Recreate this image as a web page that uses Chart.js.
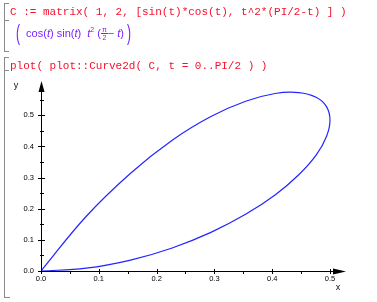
<!DOCTYPE html>
<html>
<head>
<meta charset="utf-8">
<script src="https://cdn.jsdelivr.net/npm/chart.js@4"></script>
<style>
  body { margin: 0; width: 377px; height: 302px; position: relative; background: #fff; overflow: hidden; }
  #wrap { position: absolute; left: 0; top: 0; width: 377px; height: 302px; }
  .input { position: absolute; left: 10px; font: 11px "Liberation Mono", "DejaVu Sans Mono", monospace; color: #f5102c; white-space: pre; line-height: 12px; }
  .output { position: absolute; left: 16px; top: 26px; font: 11px "Liberation Sans", Arial, sans-serif; color: #7a22ff; white-space: nowrap; }
  .output i { font-style: italic; }
  .paren { display: inline-block; font-size: 12px; transform: scaleY(1.8); vertical-align: 0px; }
  .frac { display: inline-block; vertical-align: -3px; font-size: 7px; text-align: center; line-height: 7px; }
  .frac span { display: block; }
  .frac .top { border-bottom: 1px solid #7a22ff; padding: 0 1px; }
  .br { position: absolute; background: #8a8a8a; }
</style>
</head>
<body>
<div id="wrap"><canvas id="curveChart" width="377" height="302"></canvas></div>

<div class="input" style="top:6px">C := matrix( 1, 2, [sin(t)*cos(t), t^2*(PI/2-t) ] )</div>
<div class="output"><span class="paren">(</span>&nbsp; cos(<i>t</i>) sin(<i>t</i>)&nbsp; <i>t</i><sup style="font-size:7px">2</sup> (<span class="frac"><span class="top">π</span><span>2</span></span>− <i>t</i>)&nbsp;<span class="paren">)</span></div>
<div class="input" style="top:60px">plot( plot::Curve2d( C, t = 0..PI/2 ) )</div>

<!-- notebook cell brackets -->
<div class="br" style="left:4px; top:3px; width:1px; height:49px"></div>
<div class="br" style="left:4px; top:3px; width:5px; height:1px"></div>
<div class="br" style="left:4px; top:20px; width:5px; height:1px"></div>
<div class="br" style="left:4px; top:51px; width:5px; height:1px"></div>
<div class="br" style="left:4px; top:57px; width:1px; height:241px"></div>
<div class="br" style="left:4px; top:57px; width:5px; height:1px"></div>
<div class="br" style="left:4px; top:70px; width:5px; height:1px"></div>
<div class="br" style="left:4px; top:297px; width:6px; height:1px"></div>

<script>
// curve C(t) = [x, y] at even steps of t from 0 to PI/2
const curveX = [0, 0.078, 0.155, 0.227, 0.294, 0.354, 0.405, 0.446, 0.476, 0.494, 0.500,
                0.494, 0.476, 0.446, 0.405, 0.354, 0.294, 0.227, 0.155, 0.078, 0];
const curveY = [0, 0.009, 0.035, 0.074, 0.124, 0.182, 0.244, 0.309, 0.372, 0.432, 0.484,
                0.528, 0.558, 0.573, 0.570, 0.545, 0.496, 0.420, 0.314, 0.175, 0];

const xTicks = [0, 0.1, 0.2, 0.3, 0.4, 0.5];
const yTicks = [0, 0.1, 0.2, 0.3, 0.4, 0.5];
const xMinor = [0.05, 0.15, 0.25, 0.35, 0.45];
const yMinor = [0.05, 0.15, 0.25, 0.35, 0.45, 0.55];

const points = curveX.map((x, i) => ({ x: x, y: curveY[i] }));

// axes in the MuPAD style: through the origin, with arrows and crossing ticks
const mupadAxes = {
    id: 'mupadAxes',
    afterDatasetsDraw(chart) {
        const ctx = chart.ctx;
        const xs = chart.scales.x;
        const ys = chart.scales.y;
        const area = chart.chartArea;
        const ox = xs.getPixelForValue(0);
        const oy = ys.getPixelForValue(0);

        ctx.save();
        ctx.strokeStyle = '#000';
        ctx.fillStyle = '#000';
        ctx.lineWidth = 1;

        ctx.beginPath();
        ctx.moveTo(ox - 0.5, oy + 0.5);
        ctx.lineTo(area.right - 6, oy + 0.5);
        ctx.moveTo(ox + 0.5, oy + 0.5);
        ctx.lineTo(ox + 0.5, area.top + 6);
        ctx.stroke();

        // arrow heads
        ctx.beginPath();
        ctx.moveTo(area.right + 1, oy + 0.5);
        ctx.lineTo(area.right - 12, oy - 2.5);
        ctx.lineTo(area.right - 12, oy + 3.5);
        ctx.closePath();
        ctx.fill();
        ctx.beginPath();
        ctx.moveTo(ox + 0.5, area.top - 1);
        ctx.lineTo(ox - 2.5, area.top + 10);
        ctx.lineTo(ox + 3.5, area.top + 10);
        ctx.closePath();
        ctx.fill();

        ctx.beginPath();
        xTicks.forEach(v => {
            const px = Math.round(xs.getPixelForValue(v)) + 0.5;
            ctx.moveTo(px, oy - 2);
            ctx.lineTo(px, oy + 3);
        });
        xMinor.forEach(v => {
            const px = Math.round(xs.getPixelForValue(v)) + 0.5;
            ctx.moveTo(px, oy);
            ctx.lineTo(px, oy + 3);
        });
        yTicks.forEach(v => {
            const py = Math.round(ys.getPixelForValue(v)) + 0.5;
            ctx.moveTo(ox - 3, py);
            ctx.lineTo(ox + 4, py);
        });
        yMinor.forEach(v => {
            const py = Math.round(ys.getPixelForValue(v)) + 0.5;
            ctx.moveTo(ox - 1, py);
            ctx.lineTo(ox + 3, py);
        });
        ctx.stroke();

        ctx.font = '7.5px "Liberation Sans", Arial, sans-serif';
        ctx.textAlign = 'center';
        ctx.textBaseline = 'top';
        xTicks.forEach(v => {
            ctx.fillText(v.toFixed(1), xs.getPixelForValue(v), oy + 4);
        });
        ctx.textAlign = 'right';
        ctx.textBaseline = 'middle';
        yTicks.forEach(v => {
            ctx.fillText(v.toFixed(1), ox - 7, ys.getPixelForValue(v));
        });

        ctx.font = '9px "Liberation Sans", Arial, sans-serif';
        ctx.fillStyle = '#0a0a30';
        ctx.textAlign = 'center';
        ctx.fillText('x', area.right - 7, oy + 17);
        ctx.fillText('y', ox - 25, area.top + 4);
        ctx.restore();
    }
};

new Chart(document.getElementById('curveChart'), {
    type: 'scatter',
    data: {
        datasets: [{
            data: points,
            showLine: true,
            borderColor: '#2424ff',
            borderWidth: 1.2,
            pointRadius: 0,
            tension: 0.4,
            fill: false
        }]
    },
    options: {
        responsive: false,
        animation: false,
        layout: { padding: { left: 41, top: 82, right: 32, bottom: 31 } },
        scales: {
            x: { type: 'linear', min: 0, max: 0.526, display: false },
            y: { type: 'linear', min: 0, max: 0.607, display: false }
        },
        plugins: {
            legend: { display: false },
            tooltip: { enabled: false }
        }
    },
    plugins: [mupadAxes]
});
</script>
</body>
</html>
